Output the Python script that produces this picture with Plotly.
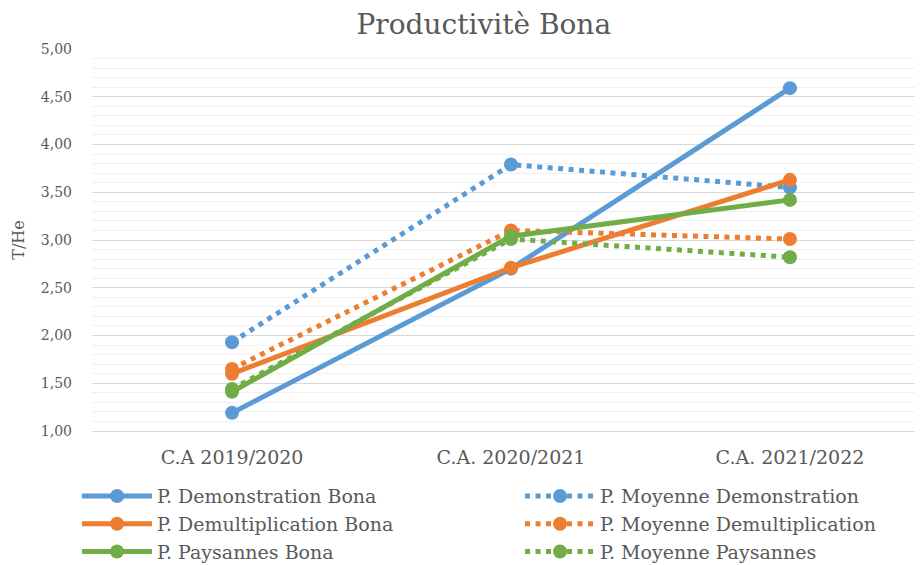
import plotly.graph_objects as go

categories = ["C.A 2019/2020", "C.A. 2020/2021", "C.A. 2021/2022"]
demo_bona = [1.19, 2.70, 4.59]
demult_bona = [1.60, 2.71, 3.63]
pays_bona = [1.41, 3.04, 3.42]
moy_demo = [1.93, 3.79, 3.55]
moy_demult = [1.65, 3.10, 3.01]
moy_pays = [1.44, 3.01, 2.82]
y_ticks = [1.0, 1.5, 2.0, 2.5, 3.0, 3.5, 4.0, 4.5, 5.0]
y_tick_labels = ["1,00", "1,50", "2,00", "2,50", "3,00", "3,50", "4,00", "4,50", "5,00"]

BLUE = "#5B9BD5"
ORANGE = "#ED7D31"
GREEN = "#70AD47"
FONT = "DejaVu Serif"

series = [
    ("P. Demonstration Bona", demo_bona, BLUE, "solid"),
    ("P. Moyenne Demonstration", moy_demo, BLUE, "dot"),
    ("P. Demultiplication Bona", demult_bona, ORANGE, "solid"),
    ("P. Moyenne Demultiplication", moy_demult, ORANGE, "dot"),
    ("P. Paysannes Bona", pays_bona, GREEN, "solid"),
    ("P. Moyenne Paysannes", moy_pays, GREEN, "dot"),
]

fig = go.Figure()
for name, vals, col, dash in series:
    if dash == "solid":
        line = dict(color=col, width=5)
    else:
        line = dict(color=col, width=5, dash="5px,5.5px")
    fig.add_trace(go.Scatter(
        x=categories, y=vals, name=name, mode="lines+markers",
        line=line, marker=dict(color=col, size=14),
    ))

fig.update_layout(
    width=915, height=557,
    paper_bgcolor="white", plot_bgcolor="white",
    margin=dict(l=84, r=0, t=41, b=134, autoexpand=False),
    font=dict(family=FONT, color="#595959", size=14),
    title=dict(text="Productivitè Bona", x=0.52, xanchor="center", y=0.989, yanchor="top",
               font=dict(size=28, color="#595959", family=FONT)),
    showlegend=True,
    legend=dict(orientation="h", x=-0.018, xanchor="left", y=-0.121, yanchor="top",
                entrywidth=358, entrywidthmode="pixels",
                font=dict(size=19, color="#595959", family=FONT),
                tracegroupgap=0, itemwidth=70),
    xaxis=dict(showgrid=False, showline=True, linecolor="#d9d9d9", linewidth=1,
               tickfont=dict(size=19, color="#595959"), ticks="", ticklabelstandoff=9,
               range=[-0.502, 2.477]),
    yaxis=dict(range=[1.0, 5.0], tickvals=y_ticks, ticktext=y_tick_labels,
               showgrid=True, gridcolor="#d9d9d9", gridwidth=1, zeroline=False,
               tickfont=dict(size=14, color="#595959"), ticklabelstandoff=19,
               title=dict(text="T/He", font=dict(size=16, color="#595959"), standoff=12),
               minor=dict(dtick=0.1, showgrid=True, gridcolor="#f0f0f0", gridwidth=1)),
)

fig.write_html("out.html")
